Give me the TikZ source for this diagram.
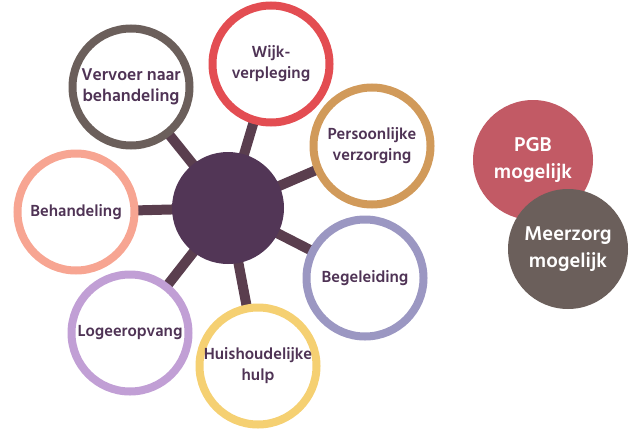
\documentclass[tikz,border=0pt]{standalone}
\usepackage{fontspec}
\setmainfont{Hind Siliguri}
\usetikzlibrary{backgrounds}
\definecolor{txt}{HTML}{4F3355}
\definecolor{hubc}{HTML}{523656}
\definecolor{connc}{HTML}{5A3E4E}
\definecolor{cvervoer}{HTML}{6B5F5B}
\definecolor{cwijk}{HTML}{E34D52}
\definecolor{cpers}{HTML}{D19A5A}
\definecolor{cbehand}{HTML}{F7A592}
\definecolor{cbegel}{HTML}{9B97C2}
\definecolor{clogeer}{HTML}{C19FD5}
\definecolor{chuis}{HTML}{F5D072}
\definecolor{cpgb}{HTML}{C25A65}
\definecolor{cmeer}{HTML}{6B5F5B}
\begin{document}
\begin{tikzpicture}[x=1pt,y=-1pt,
  ring/.style={circle, draw=#1, line width=8pt, fill=white, minimum size=117pt, inner sep=0pt,
    align=center, text=txt, font=\bfseries\fontsize{16.5}{21}\selectfont},
  solid/.style={circle, fill=#1, minimum size=120pt, inner sep=0pt, align=center, text=white,
    font=\bfseries\fontsize{20.5}{27}\selectfont},
  conn/.style={draw=connc, line width=10pt}]
\useasboundingbox (0,0) rectangle (636,428);
\node[circle, fill=hubc, minimum size=112pt, inner sep=0pt] (hub) at (228,208) {};
\node[ring=cvervoer, font=\bfseries\fontsize{17.5}{21}\selectfont] (vervoer) at (131,87) {Vervoer naar\\behandeling};
\node[ring=cwijk] (wijk) at (271,64) {Wijk-\\verpleging};
\node[ring=cpers] (pers) at (372,146) {Persoonlijke\\verzorging};
\node[ring=cbehand] (behand) at (76,212) {Behandeling};
\node[ring=cbegel] (begel) at (365,278) {Begeleiding};
\node[ring=clogeer] (logeer) at (130,333) {Logeeropvang};
\node[ring=chuis] (huis) at (258,366) {Huishoudelijke\\hulp};
\begin{pgfonlayer}{background}
\foreach \t in {vervoer,wijk,pers,behand,begel,logeer,huis}
  \draw[conn] (hub.center) -- (\t.center);
\end{pgfonlayer}
\node[solid=cpgb] (pgb) at (533,160) {PGB\\mogelijk};
\node[solid=cmeer] (meer) at (568,249) {Meerzorg\\mogelijk};
\end{tikzpicture}
\end{document}
